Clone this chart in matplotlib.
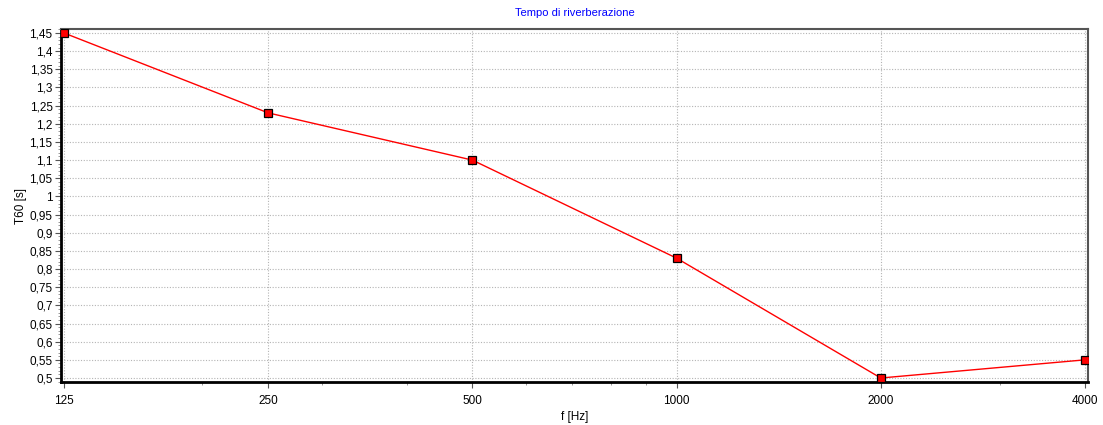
import numpy as np
import matplotlib.pyplot as plt
from matplotlib.ticker import FixedLocator, MultipleLocator, FuncFormatter, NullFormatter

plt.rcParams['font.family'] = ['Liberation Sans', 'DejaVu Sans']

freq = [125, 250, 500, 1000, 2000, 4000]
t60 = [1.45, 1.23, 1.10, 0.83, 0.50, 0.55]
yticks = [0.5, 0.55, 0.6, 0.65, 0.7, 0.75, 0.8, 0.85, 0.9, 0.95, 1.0,
          1.05, 1.1, 1.15, 1.2, 1.25, 1.3, 1.35, 1.4, 1.45]

fig = plt.figure(figsize=(11.03, 4.25), dpi=100)
ax = fig.add_axes([61 / 1103, 1 - 382 / 425, (1088 - 61) / 1103, (382 - 29) / 425])

ax.plot(freq, t60, color='red', lw=1, marker='s', markersize=6,
        markerfacecolor='red', markeredgecolor='black', markeredgewidth=0.9, zorder=3)

ax.set_xscale('log', base=2)
ax.set_xlim(125 * 2 ** -0.0147, 4000 * 2 ** 0.0147)
ax.set_ylim(0.5 - 0.011, 1.45 + 0.011)

ax.xaxis.set_major_locator(FixedLocator(freq))
ax.xaxis.set_major_formatter(FuncFormatter(lambda v, p: '%d' % round(v)))
minor_x = [m * d for d in (100, 1000) for m in range(2, 10)]
ax.xaxis.set_minor_locator(FixedLocator([v for v in minor_x if 125 < v < 4000 and v not in freq]))
ax.xaxis.set_minor_formatter(NullFormatter())

ax.yaxis.set_major_locator(FixedLocator(yticks))
ax.yaxis.set_major_formatter(FuncFormatter(lambda v, p: ('%g' % round(v, 2)).replace('.', ',')))
ax.yaxis.set_minor_locator(MultipleLocator(0.01))

ax.grid(True, which='major', color='#b4b4b4', linestyle=(0, (1, 1.5)), lw=0.8)
ax.tick_params(which='major', direction='out', length=4, width=0.8, color='#555555',
               labelsize=8.5, pad=2)
ax.tick_params(axis='x', which='major', pad=5)
ax.tick_params(which='minor', direction='out', length=2.5, width=0.6, color='#888888')

ax.spines['left'].set_linewidth(2)
ax.spines['bottom'].set_linewidth(2)
ax.spines['top'].set_color('#555555')
ax.spines['top'].set_linewidth(1.5)
ax.spines['right'].set_color('#555555')
ax.spines['right'].set_linewidth(1.5)

ax.set_title('Tempo di riverberazione', color='blue', fontsize=8, pad=9)
ax.set_xlabel('f [Hz]', fontsize=8.5, labelpad=3)
ax.set_ylabel('T60 [s]', fontsize=8.5, labelpad=2)

plt.savefig('out.png', dpi=100)
